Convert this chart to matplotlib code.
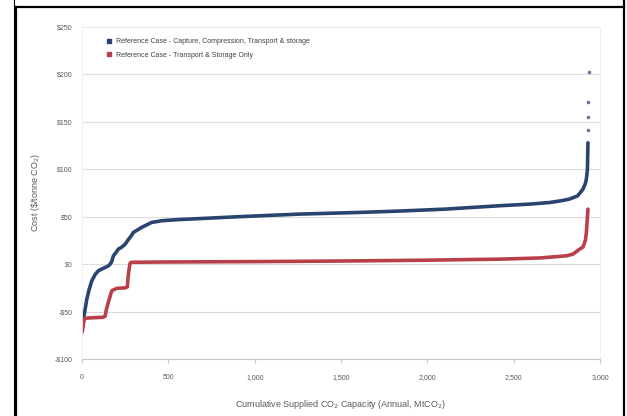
#cost curve of CO2 supply: full chain vs transport & storage only
import matplotlib.pyplot as plt
from matplotlib.lines import Line2D

plt.rcParams['font.family'] = ['Liberation Sans', 'DejaVu Sans']

# cumulative capacity (MtCO2/yr) and cost ($/tonne)
full_x = [0, 4, 15, 27, 40, 56, 75, 94, 115, 133, 150, 162, 172, 181, 195, 210, 230, 249, 268, 285, 297, 320, 345, 375, 403, 461, 560, 712, 900, 1262,
          1600, 1840, 2100, 2419, 2600, 2708, 2780, 2824, 2870, 2901, 2915, 2921, 2927, 2930]
full_y = [-65, -62, -50, -37, -27, -17.6, -11, -7, -5, -3.5, -2, 0, 3, 8.8, 12, 15.9, 18, 21, 26, 30, 33.5, 36, 38.8, 41.5, 44, 45.8, 47, 48.3, 50, 52.8,
          54.5, 56, 58, 61.6, 63.4, 65, 67, 68.7, 72, 79, 85, 90, 100, 128]
full_top_x = [2931, 2932, 2932, 2934]
full_top_y = [141, 155, 171, 203]

ts_x = [0, 5, 10, 17, 60, 120, 133, 140, 152, 165, 172, 200, 249, 262, 266, 270, 276, 280, 287, 500, 1000, 1500, 2000, 2419, 2650, 2805, 2843, 2882,
        2901, 2915, 2921, 2926, 2930]
ts_y = [-72, -66, -60, -57, -56.5, -56, -55, -48, -40, -32, -28, -25.5, -25, -24, -14, -8, 0, 1.5, 2, 2.3, 2.7, 3.3, 4.2, 5.3, 6.5, 8.8, 10.6, 15.9,
        18, 25, 33.5, 47.6, 58]

xticks = [0, 500, 1000, 1500, 2000, 2500, 3000]
xlabels = ['0', '500', '1,000', '1,500', '2,000', '2,500', '3,000']
yticks = [-100, -50, 0, 50, 100, 150, 200, 250]
ylabels = ['-$100', '-$50', '$0', '$50', '$100', '$150', '$200', '$250']

blue = '#2a4470'
red = '#b9404b'
grey = '#595959'

fig = plt.figure(figsize=(6.27, 4.16), dpi=100)
ax = fig.add_axes([0.131, 0.137, 0.826, 0.798])

ax.plot(full_x, full_y, color=blue, lw=2.6, solid_capstyle='round',
        label='Reference Case - Capture, Compression, Transport & storage')
ax.plot(full_top_x, full_top_y, 's', color=blue, ms=2, alpha=0.6)
ax.plot(ts_x, ts_y, color=red, lw=2.6, solid_capstyle='round',
        label='Reference Case - Transport & Storage Only')

ax.set_xlim(0, 3000)
ax.set_ylim(-100, 250)
ax.set_xticks(xticks)
ax.set_xticklabels(xlabels)
ax.set_yticks(yticks)
ax.set_yticklabels(ylabels)
ax.grid(axis='y', color='#dcdcdc', lw=0.8)
ax.set_axisbelow(True)
for s in ['top', 'right', 'left']:
    ax.spines[s].set_color('#eeeeee')
    ax.spines[s].set_linewidth(0.6)
ax.spines['bottom'].set_color('#c8c8c8')
ax.spines['bottom'].set_linewidth(0.8)
ax.tick_params(axis='x', length=3, color='#c8c8c8', labelsize=5, labelcolor=grey, pad=8)
ax.tick_params(axis='y', length=0, labelsize=5, labelcolor=grey, pad=7)

ax.set_xlabel('Cumulative Supplied CO$_2$ Capacity (Annual, MtCO$_2$)', fontsize=6.5, color=grey, labelpad=12)
ax.set_ylabel('Cost (\\$/tonne CO$_2$)', fontsize=6.5, color=grey, labelpad=9)

handles = [Line2D([], [], ls='none', marker='s', ms=2.5, color=blue),
           Line2D([], [], ls='none', marker='s', ms=2.5, color=red)]
ax.legend(handles, ['Reference Case - Capture, Compression, Transport & storage',
                    'Reference Case - Transport & Storage Only'],
          loc='upper left', bbox_to_anchor=(0.035, 0.985), frameon=False,
          fontsize=5, labelcolor='#404040', handlelength=0.8, handletextpad=0.6, labelspacing=0.9)

# table cell border around the chart
fig.add_artist(Line2D([0.026, 0.996], [0.982, 0.982], color='black', lw=1.6))
fig.add_artist(Line2D([0.026, 0.026], [0, 0.982], color='black', lw=1.6))
fig.add_artist(Line2D([0.022, 0.022], [0, 1], color='black', lw=0.8))
fig.add_artist(Line2D([0.996, 0.996], [0, 1], color='black', lw=1.6))

fig.savefig('out.png', dpi=100)
